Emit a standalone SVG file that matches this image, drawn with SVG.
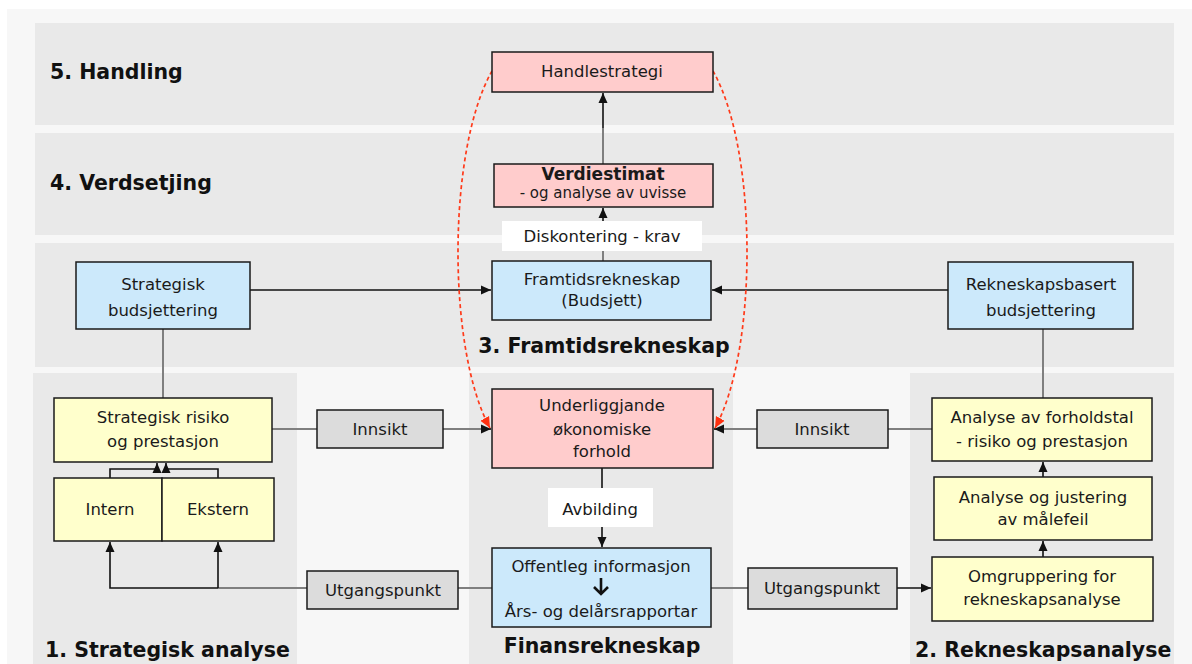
<svg xmlns="http://www.w3.org/2000/svg" width="1192" height="664" viewBox="0 0 1192 664">
<style>
text{font-family:"DejaVu Sans","Liberation Sans",sans-serif;font-size:16.5px;fill:#1a1a1a;text-anchor:middle}
.title{font-weight:bold;font-size:20.5px;text-anchor:start;fill:#111}
.box{stroke:#1a1a1a;stroke-width:1.5}
.pink{fill:#ffcccc}.blue{fill:#cce9fb}.yel{fill:#ffffcc}.gr{fill:#dcdcdc}.wh{fill:#ffffff}
.band{fill:#e9e9e9}
.k{fill:none;stroke:#111;stroke-width:1.6}
.g{fill:none;stroke:#7f7f7f;stroke-width:2}
.red{fill:none;stroke:#ff3a1a;stroke-width:1.7;stroke-dasharray:4 3}
</style>
<defs>
<marker id="ak" markerWidth="11" markerHeight="11" refX="10" refY="5.5" orient="auto" markerUnits="userSpaceOnUse"><path d="M0,1 L10,5.5 L0,10 Z" fill="#111"/></marker>
<marker id="ar" markerWidth="12" markerHeight="12" refX="11" refY="6" orient="auto" markerUnits="userSpaceOnUse"><path d="M0,1 L11,6 L0,11 Z" fill="#ff3010"/></marker>
</defs>
<rect x="0" y="0" width="1192" height="664" fill="#ffffff"/>
<rect x="7" y="9" width="1185" height="655" fill="#f7f7f7"/>
<g id="bands">
<rect class="band" x="35" y="23" width="1139" height="102"/>
<rect class="band" x="35" y="133" width="1139" height="102"/>
<rect class="band" x="35" y="243" width="1139" height="124"/>
<rect class="band" x="33" y="373" width="264" height="291"/>
<rect class="band" x="469" y="373" width="264" height="291"/>
<rect class="band" x="910" y="373" width="264" height="291"/>
<text class="title" x="50" y="79">5. Handling</text>
<text class="title" x="50" y="190">4. Verdsetjing</text>
<text class="title" x="604" y="353" style="text-anchor:middle">3. Framtidsrekneskap</text>
<text class="title" x="45" y="657">1. Strategisk analyse</text>
<text class="title" x="602" y="653" style="text-anchor:middle">Finansrekneskap</text>
<text class="title" x="915" y="657">2. Rekneskapsanalyse</text>
</g>
<g id="connectors">
<path class="g" d="M603 164 V128"/>
<path class="k" d="M603 128 V93" marker-end="url(#ak)"/>
<path class="g" d="M603 261 V251"/>
<path class="k" d="M603 221 V208" marker-end="url(#ak)"/>
<path class="k" d="M250 290 H491" marker-end="url(#ak)"/>
<path class="k" d="M948 290 H712" marker-end="url(#ak)"/>
<path class="g" d="M163 329 V398"/>
<path class="g" d="M1043 329 V398"/>
<path class="g" d="M272 429 H317"/>
<path class="g" d="M443 429 H482"/>
<path class="k" d="M482 429 H491" marker-end="url(#ak)"/>
<path class="g" d="M888 429 H932"/>
<path class="g" d="M757 429 H724"/>
<path class="k" d="M724 429 H714" marker-end="url(#ak)"/>
<path class="k" d="M110 478 V469 H157 V463" marker-end="url(#ak)"/>
<path class="k" d="M218 478 V469 H166 V463" marker-end="url(#ak)"/>
<path class="k" d="M602 468 V488"/>
<path class="k" d="M602 527 V547" marker-end="url(#ak)"/>
<path class="g" d="M492 588 H458"/>
<path class="g" d="M307 588 H218"/>
<path class="k" d="M218 588 H110 V542" marker-end="url(#ak)"/>
<path class="k" d="M218 588 V542" marker-end="url(#ak)"/>
<path class="g" d="M711 588 H748"/>
<path class="k" d="M897 588 H931" marker-end="url(#ak)"/>
<path class="k" d="M1043 557 V541" marker-end="url(#ak)"/>
<path class="k" d="M1043 477 V462" marker-end="url(#ak)"/>
<path class="red" d="M492 71 C447 150 447 350 490 428" marker-end="url(#ar)"/>
<path class="red" d="M713 71 C758 150 758 350 715 428" marker-end="url(#ar)"/>
</g>
<g id="handlestrategi"><rect class="box pink" x="492" y="52" width="221" height="40"/><text x="602" y="77">Handlestrategi</text></g>
<g id="verdiestimat"><rect class="box pink" x="494" y="164" width="219" height="43"/><text x="603" y="180" style="font-weight:bold;font-size:17px">Verdiestimat</text><text x="603" y="198" style="font-size:15px">- og analyse av uvisse</text></g>
<g id="diskontering"><rect class="wh" x="502" y="221" width="200" height="30"/><text x="602" y="242">Diskontering - krav</text></g>
<g id="framtidsrekneskap"><rect class="box blue" x="492" y="261" width="219" height="59"/><text x="602" y="285">Framtidsrekneskap</text><text x="602" y="306">(Budsjett)</text></g>
<g id="strategisk-budsjettering"><rect class="box blue" x="76" y="262" width="174" height="67"/><text x="163" y="290">Strategisk</text><text x="163" y="316">budsjettering</text></g>
<g id="rekneskapsbasert-budsjettering"><rect class="box blue" x="948" y="262" width="185" height="67"/><text x="1041" y="290">Rekneskapsbasert</text><text x="1041" y="316">budsjettering</text></g>
<g id="underliggjande"><rect class="box pink" x="492" y="389" width="221" height="79"/><text x="602" y="411">Underliggjande</text><text x="602" y="435">økonomiske</text><text x="602" y="457">forhold</text></g>
<g id="strategisk-risiko"><rect class="box yel" x="54" y="398" width="218" height="64"/><text x="163" y="423">Strategisk risiko</text><text x="163" y="447">og prestasjon</text></g>
<g id="innsikt-left"><rect class="box gr" x="317" y="410" width="126" height="38"/><text x="380" y="435">Innsikt</text></g>
<g id="innsikt-right"><rect class="box gr" x="757" y="410" width="131" height="38"/><text x="822" y="435">Innsikt</text></g>
<g id="analyse-forholdstal"><rect class="box yel" x="932" y="398" width="220" height="63"/><text x="1042" y="423">Analyse av forholdstal</text><text x="1042" y="447">- risiko og prestasjon</text></g>
<g id="intern"><rect class="box yel" x="54" y="478" width="108" height="63"/><text x="110" y="515">Intern</text></g>
<g id="ekstern"><rect class="box yel" x="162" y="478" width="112" height="63"/><text x="218" y="515">Ekstern</text></g>
<g id="analyse-justering"><rect class="box yel" x="934" y="477" width="218" height="63"/><text x="1043" y="503">Analyse og justering</text><text x="1043" y="525">av målefeil</text></g>
<g id="avbilding"><rect class="wh" x="548" y="488" width="105" height="39"/><text x="600" y="515">Avbilding</text></g>
<g id="offentleg"><rect class="box blue" x="492" y="548" width="219" height="79"/><text x="601" y="572">Offentleg informasjon</text><path d="M601 578 V594 M594 587 L601 594 L608 587" fill="none" stroke="#111" stroke-width="2.6"/><text x="601" y="617">Års- og delårsrapportar</text></g>
<g id="utgangspunkt-left"><rect class="box gr" x="307" y="571" width="151" height="38"/><text x="383" y="596">Utgangspunkt</text></g>
<g id="utgangspunkt-right"><rect class="box gr" x="748" y="568" width="149" height="41"/><text x="822" y="594">Utgangspunkt</text></g>
<g id="omgruppering"><rect class="box yel" x="932" y="557" width="221" height="64"/><text x="1042" y="582">Omgruppering for</text><text x="1042" y="605">rekneskapsanalyse</text></g>
</svg>
